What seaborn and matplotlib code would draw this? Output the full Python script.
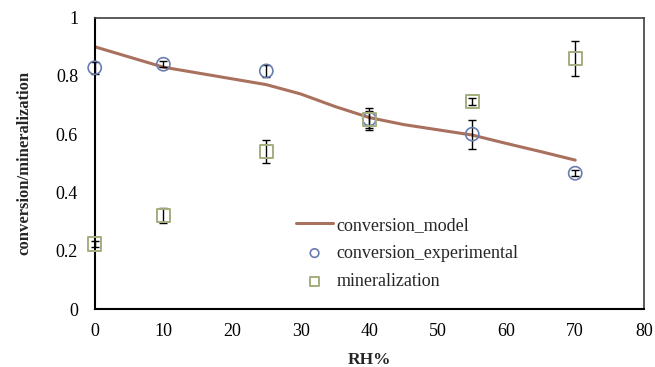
import matplotlib
matplotlib.use("Agg")
import matplotlib.pyplot as plt
import seaborn as sns
import pandas as pd

# conversion model curve
model_rh = [0, 5, 10, 15, 20, 25, 30, 35, 40, 45, 50, 55, 60, 65, 70]
model_conv = [0.90, 0.865, 0.83, 0.81, 0.79, 0.77, 0.738, 0.695, 0.657,
              0.633, 0.615, 0.597, 0.568, 0.54, 0.511]

# experimental points
rh = [0, 10, 25, 40, 55, 70]
conv_exp = [0.828, 0.84, 0.817, 0.652, 0.600, 0.466]
conv_err = [0.02, 0.01, 0.02, 0.038, 0.05, 0.01]
miner = [0.223, 0.32, 0.54, 0.651, 0.711, 0.861]
miner_err = [0.01, 0.025, 0.04, 0.03, 0.012, 0.06]

line_color = "#A9705E"
circ_color = "#6A7DB0"
sq_color = "#A3AE7D"

sns.set_theme(style="white")
plt.rcParams["font.family"] = ["Liberation Serif", "DejaVu Serif"]

fig = plt.figure(figsize=(6.55, 3.67), dpi=100)
ax = fig.add_axes([0.1446, 0.158, 0.8384, 0.794])

model_df = pd.DataFrame({"RH": model_rh, "conv": model_conv})
exp_df = pd.DataFrame({"RH": rh, "conv": conv_exp, "miner": miner})

sns.lineplot(data=model_df, x="RH", y="conv", color=line_color, linewidth=2.2,
             label="conversion_model", ax=ax, zorder=2)
for vals, errs in [(conv_exp, conv_err), (miner, miner_err)]:
    eb = ax.errorbar(rh, vals, yerr=errs, fmt="none", ecolor="black",
                     elinewidth=1, capsize=3, capthick=1, zorder=3)
    for art in eb.lines[1] + eb.lines[2]:
        art.set_clip_on(False)
sns.scatterplot(data=exp_df, x="RH", y="conv", marker="o", s=90,
                facecolor="none", edgecolor=circ_color, linewidth=1.2,
                label="conversion_experimental", ax=ax, zorder=4, clip_on=False)
sns.scatterplot(data=exp_df, x="RH", y="miner", marker="s", s=90,
                facecolor="none", edgecolor=sq_color, linewidth=1.4,
                label="mineralization", ax=ax, zorder=4, clip_on=False)

ax.set_xlim(0, 80)
ax.set_ylim(0, 1)
ax.set_xticks(range(0, 81, 10))
ax.set_yticks([0, 0.2, 0.4, 0.6, 0.8, 1.0])
ax.set_yticklabels(["0", "0.2", "0.4", "0.6", "0.8", "1"])
ax.tick_params(axis="both", direction="out", length=4, width=1,
               labelsize=13, colors="black")
ax.tick_params(axis="x", pad=6)
ax.tick_params(axis="y", pad=8)

for side in ["left", "bottom"]:
    ax.spines[side].set_color("black")
    ax.spines[side].set_linewidth(1.5)
for side in ["top", "right"]:
    ax.spines[side].set_color("#404040")
    ax.spines[side].set_linewidth(1.2)

ax.set_xlabel("RH%", fontsize=12.5, fontweight="bold", labelpad=9)
ax.set_ylabel("conversion/mineralization", fontsize=12, fontweight="bold",
              labelpad=17)
ax.grid(False)

leg = ax.legend(loc="upper left", bbox_to_anchor=(0.351, 0.348), frameon=False,
                fontsize=13, handlelength=2.0, handletextpad=0.2,
                labelspacing=0.62, markerscale=0.65, borderpad=0)

fig.savefig("out.png", dpi=100)
